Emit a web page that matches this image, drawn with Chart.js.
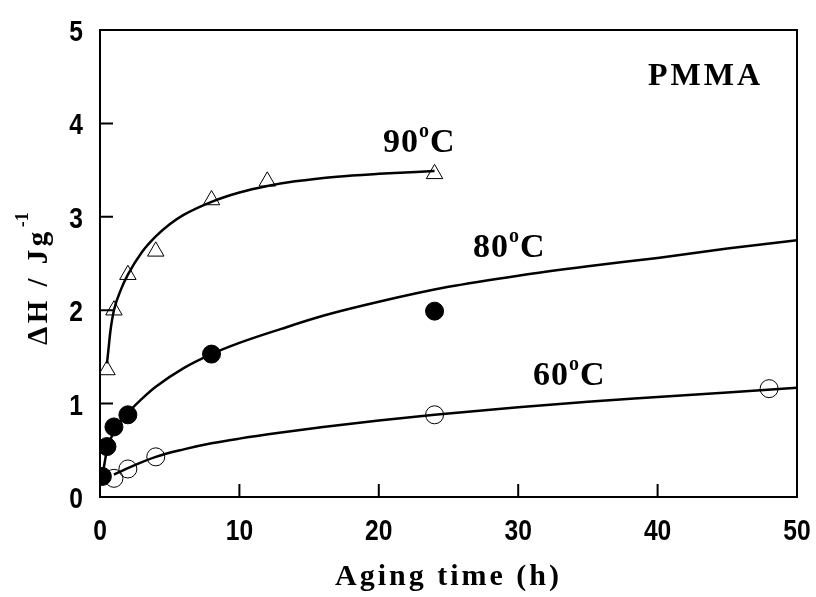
<!DOCTYPE html>
<html>
<head>
<meta charset="utf-8">
<script src="https://cdn.jsdelivr.net/npm/chart.js@4.4.1/dist/chart.umd.min.js"></script>
<style>
  html, body { margin: 0; padding: 0; background: #fff; }
  #wrap { width: 816px; height: 597px; }
</style>
</head>
<body>
<div id="wrap"><canvas id="chart" width="816" height="597"></canvas></div>
<script>
// measured points (aging time in h, enthalpy in J/g)
const time90 = [0.5, 1, 2, 4, 8, 12, 24]
const dh90 = [1.36, 2.0, 2.38, 2.63, 3.18, 3.38, 3.46]

const time80 = [0.17, 0.5, 1, 2, 8, 24]
const dh80 = [0.22, 0.54, 0.75, 0.88, 1.53, 1.99]

const time60 = [1, 2, 4, 24, 48]
const dh60 = [0.2, 0.3, 0.43, 0.88, 1.16]

// fitted curves
const fitTime90 = [0.5, 0.6, 0.75, 1, 1.5, 2, 3, 4, 5, 6, 8, 10, 12, 14, 17, 20, 24]
const fitDh90 = [1.43, 1.57, 1.78, 2.0, 2.22, 2.38, 2.62, 2.79, 2.92, 3.02, 3.16, 3.26, 3.33, 3.38, 3.43, 3.46, 3.49]

const fitTime80 = [0.17, 0.5, 1, 2, 3, 4, 6, 8, 10, 13, 16, 20, 25, 30, 35, 40, 45, 50]
const fitDh80 = [0.22, 0.5, 0.7, 0.9, 1.05, 1.18, 1.38, 1.53, 1.65, 1.8, 1.94, 2.09, 2.25, 2.37, 2.47, 2.56, 2.66, 2.75]

const fitTime60 = [1, 2, 4, 6, 8, 10, 13, 16, 20, 24, 30, 35, 40, 45, 50]
const fitDh60 = [0.24, 0.31, 0.43, 0.51, 0.575, 0.625, 0.69, 0.75, 0.82, 0.88, 0.96, 1.02, 1.07, 1.12, 1.17]

const xTicks = [0, 10, 20, 30, 40, 50]
const yTicks = [0, 1, 2, 3, 4, 5]

const serif = '"Liberation Serif", "Times New Roman", serif'
const sans = '"Liberation Sans", Arial, sans-serif'

const toXY = (xs, ys) => xs.map((x, i) => ({ x: x, y: ys[i] }))

function spaced(ctx, text, x, y, gap) {
  for (const ch of text) {
    ctx.fillText(ch, x, y)
    x += ctx.measureText(ch).width + gap
  }
  return x
}

// "90" + superscript "o" + "C"
function degreeLabel(ctx, num, x, y) {
  ctx.font = 'bold 34px ' + serif
  let cx = spaced(ctx, num, x, y, 1)
  ctx.font = 'bold 20px ' + serif
  ctx.fillText('o', cx, y - 15)
  cx += ctx.measureText('o').width + 1
  ctx.font = 'bold 34px ' + serif
  ctx.fillText('C', cx, y)
}

// narrow bold tick text, squeezed horizontally
function narrowText(ctx, text, x, y, align) {
  ctx.save()
  ctx.font = 'bold 30px ' + sans
  const w = ctx.measureText(text).width * 0.82
  let left = x
  if (align === 'center') left = x - w / 2
  if (align === 'right') left = x - w
  ctx.translate(left, y)
  ctx.scale(0.82, 1)
  ctx.textAlign = 'left'
  ctx.fillText(text, 0, 0)
  ctx.restore()
}

const framePlugin = {
  id: 'frame',
  afterDraw(chart) {
    const { ctx, chartArea: a, scales } = chart
    ctx.save()
    ctx.strokeStyle = '#000'
    ctx.lineWidth = 2
    ctx.strokeRect(a.left, a.top, a.right - a.left, a.bottom - a.top)
    ctx.beginPath()
    xTicks.slice(1, -1).forEach(v => {
      const px = scales.x.getPixelForValue(v)
      ctx.moveTo(px, a.bottom)
      ctx.lineTo(px, a.bottom - 13)
    })
    yTicks.slice(1, -1).forEach(v => {
      const py = scales.y.getPixelForValue(v)
      ctx.moveTo(a.left, py)
      ctx.lineTo(a.left + 13, py)
    })
    ctx.stroke()

    ctx.fillStyle = '#000'
    ctx.textBaseline = 'alphabetic'
    ctx.textAlign = 'left'

    // tick labels from the scales
    scales.x.ticks.forEach(t => {
      narrowText(ctx, String(t.value), scales.x.getPixelForValue(t.value), a.bottom + 43, 'center')
    })
    scales.y.ticks.forEach(t => {
      narrowText(ctx, String(t.value), a.left - 17, scales.y.getPixelForValue(t.value) + 11, 'right')
    })

    degreeLabel(ctx, '90', 383, 152)
    degreeLabel(ctx, '80', 473, 257)
    degreeLabel(ctx, '60', 533, 385)

    ctx.font = 'bold 32px ' + serif
    spaced(ctx, 'PMMA', 648, 85, 3)

    ctx.font = 'bold 30px ' + serif
    spaced(ctx, 'Aging time (h)', 335, 585, 3)

    // rotated y title with superscript -1
    ctx.translate(47, 345)
    ctx.rotate(-Math.PI / 2)
    ctx.font = 'bold 29px ' + serif
    let cx = spaced(ctx, '\u0394H / Jg', 0, 0, 3.5)
    ctx.font = 'bold 18px ' + serif
    ctx.fillText('-1', cx + 1, -19)
    ctx.restore()
  }
}

new Chart(document.getElementById('chart'), {
  type: 'scatter',
  data: {
    datasets: [
      {
        label: 'fit 90',
        data: toXY(fitTime90, fitDh90),
        showLine: true,
        borderColor: '#000',
        borderWidth: 2.5,
        pointRadius: 0,
        cubicInterpolationMode: 'monotone'
      },
      {
        label: 'fit 80',
        data: toXY(fitTime80, fitDh80),
        showLine: true,
        borderColor: '#000',
        borderWidth: 2.5,
        pointRadius: 0,
        cubicInterpolationMode: 'monotone'
      },
      {
        label: 'fit 60',
        data: toXY(fitTime60, fitDh60),
        showLine: true,
        borderColor: '#000',
        borderWidth: 2.5,
        pointRadius: 0,
        cubicInterpolationMode: 'monotone'
      },
      {
        label: '90C',
        data: toXY(time90, dh90),
        pointStyle: 'triangle',
        pointRadius: 9.5,
        borderWidth: 1,
        borderColor: '#000',
        backgroundColor: 'rgba(255,255,255,0)'
      },
      {
        label: '80C',
        data: toXY(time80, dh80),
        pointStyle: 'circle',
        pointRadius: 9,
        borderWidth: 1,
        borderColor: '#000',
        backgroundColor: '#000'
      },
      {
        label: '60C',
        data: toXY(time60, dh60),
        pointStyle: 'circle',
        pointRadius: 9,
        borderWidth: 1,
        borderColor: '#000',
        backgroundColor: 'rgba(255,255,255,0)'
      }
    ]
  },
  options: {
    responsive: false,
    animation: false,
    layout: {
      padding: { top: 30, right: 19, left: 0, bottom: 0 }
    },
    plugins: {
      legend: { display: false },
      tooltip: { enabled: false }
    },
    scales: {
      x: {
        type: 'linear',
        min: 0,
        max: 50,
        afterFit: s => { s.height = 100 },
        afterBuildTicks: s => { s.ticks = xTicks.map(v => ({ value: v })) },
        grid: { display: false },
        border: { display: false },
        ticks: { display: false }
      },
      y: {
        type: 'linear',
        min: 0,
        max: 5,
        afterFit: s => { s.width = 100 },
        afterBuildTicks: s => { s.ticks = yTicks.map(v => ({ value: v })) },
        grid: { display: false },
        border: { display: false },
        ticks: { display: false }
      }
    }
  },
  plugins: [framePlugin]
})
</script>
</body>
</html>
